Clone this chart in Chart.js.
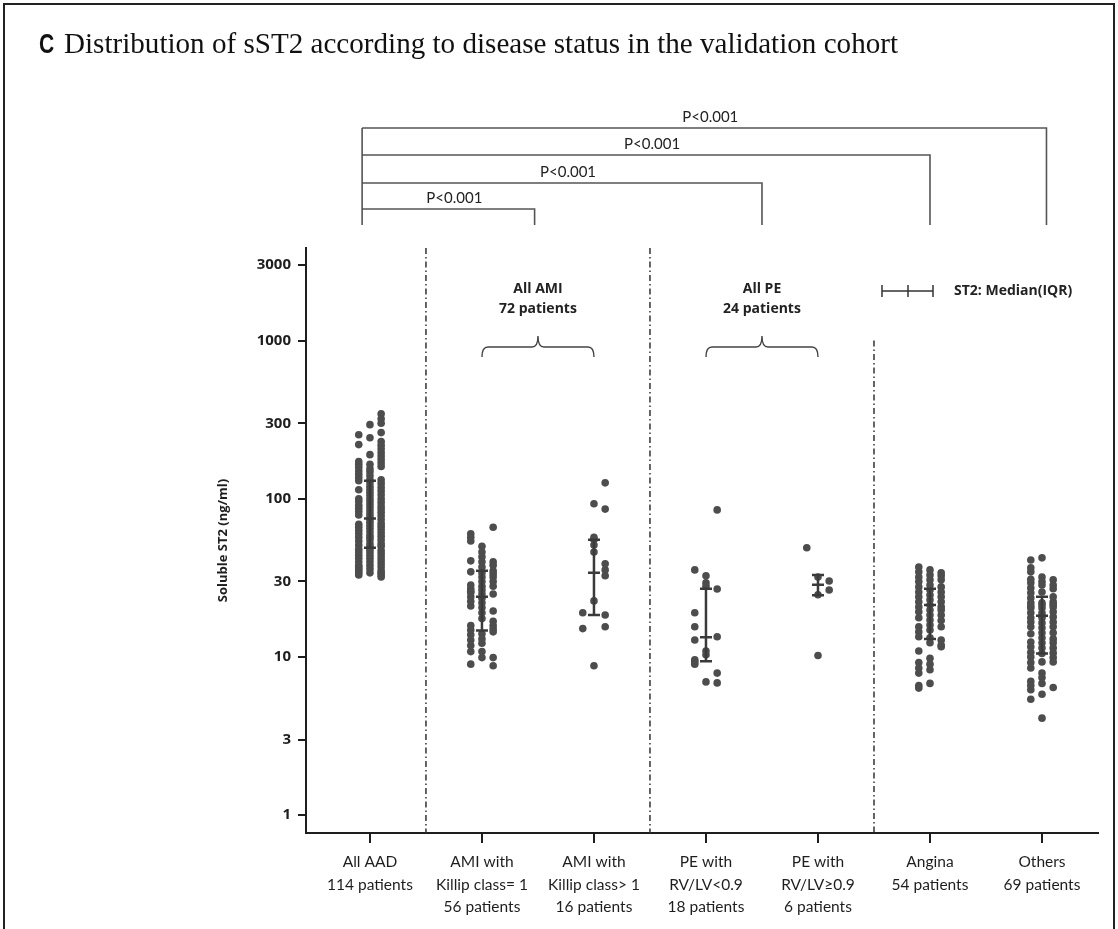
<!DOCTYPE html>
<html>
<head>
<meta charset="utf-8">
<script src="https://cdn.jsdelivr.net/npm/chart.js@4.4.1/dist/chart.umd.min.js"></script>
<style>
  html, body { margin: 0; padding: 0; background: #fff; }
  #wrap { width: 1118px; height: 929px; }
</style>
</head>
<body>
<div id="wrap"><canvas id="myChart" width="1118" height="929"></canvas></div>
<script>
// x axis groups
const categories = [
  ["All AAD", "114 patients"],
  ["AMI with", "Killip class= 1", "56 patients"],
  ["AMI with", "Killip class> 1", "16 patients"],
  ["PE with", "RV/LV<0.9", "18 patients"],
  ["PE with", "RV/LV\u22650.9", "6 patients"],
  ["Angina", "54 patients"],
  ["Others", "69 patients"]
];
const yTicks = [1, 3, 10, 30, 100, 300, 1000, 3000];

// sST2 (ng/ml) per group, split in the 3 dot columns (left, middle, right)
const allAAD = [
  [254, 220, 172, 165, 158, 150, 143, 136, 130, 114, 100, 96, 91, 87, 83, 79, 69, 66, 63, 60, 57, 54, 51, 48, 46, 44, 42, 40, 38, 37, 36, 35, 34, 33],
  [294, 243, 190, 165, 155, 148, 140, 132, 126, 120, 115, 110, 105, 100, 96, 92, 88, 84, 80, 77, 74, 71, 68, 65, 62, 59, 57, 55, 52, 50, 48, 46, 44, 42, 40, 38, 36, 34],
  [345, 320, 300, 262, 230, 218, 207, 196, 186, 177, 168, 160, 132, 125, 118, 112, 106, 100, 95, 90, 86, 82, 78, 74, 70, 67, 64, 61, 58, 55, 52, 50, 47, 45, 43, 41, 39, 37, 35, 34, 33, 32]
];
const amiKillip1 = [
  [60, 57, 54, 40.5, 34.5, 28.5, 27, 26, 25.5, 24, 22.5, 21, 15.8, 14.8, 13.8, 12.8, 11.8, 10.8, 9.0],
  [50, 46, 43, 40, 37, 34, 32, 30, 28, 26.5, 25, 23.5, 22, 20.5, 19, 17.5, 14, 13, 12.2, 10.8, 9.9],
  [66, 40, 38, 35, 33.5, 32, 30, 28, 25, 19.5, 16.8, 15.8, 15, 14.4, 9.9, 8.8]
];
const amiKillip2 = [
  [19, 15.1],
  [93, 57, 55, 51, 46, 22.6, 8.8],
  [126, 86, 38.8, 35.5, 32.6, 18.4, 15.5]
];
const peLow = [
  [35.5, 19, 15.5, 12.8, 9.6, 9.3, 9.0],
  [32.6, 29.4, 28, 10.9, 10.3, 6.95],
  [85, 26.9, 13.4, 7.9, 6.85]
];
const peHigh = [
  [49],
  [32, 24.7, 10.2],
  [30.2, 26.5]
];
const angina = [
  [37, 34.5, 32, 30, 27.7, 25.7, 24, 22.3, 20.7, 19.3, 17.7, 15.5, 14.4, 13.4, 10.9, 9.2, 8.5, 7.9, 6.6, 6.35],
  [35.5, 33, 30.7, 28.5, 26.5, 24.6, 23, 21.3, 19.8, 18.4, 17.1, 15.9, 14.8, 13.2, 12.3, 9.8, 9.0, 8.3, 6.8],
  [34, 32.6, 30.7, 27.7, 25.7, 24, 22.3, 20.7, 19.8, 18.4, 17, 15.5, 12.8, 11.9, 11.6]
];
const others = [
  [41, 36.6, 34.5, 31, 29.4, 27.3, 25.4, 23.6, 22, 21, 20.4, 19, 17.7, 16.6, 15.5, 14, 12.4, 11.6, 10.7, 10, 9.2, 8.5, 7.0, 6.6, 6.2, 5.4],
  [42.3, 32, 30, 28.5, 25.7, 22, 21.3, 20.4, 19, 18.2, 17.7, 16.4, 15.3, 14.2, 13.2, 12.3, 11.4, 10.5, 9.3, 7.9, 7.4, 6.8, 5.8, 4.1],
  [30.7, 28.5, 27, 24, 22.3, 21.5, 20.7, 19.3, 17.9, 16.6, 15.5, 14.2, 13, 12.3, 11.4, 10.6, 9.9, 9.3, 6.4]
];

// median (IQR) per group
const q1 = [49, 14.7, 18.4, 9.4, 24.5, 13, 10.5];
const median = [75, 24, 34, 13.3, 28.6, 21.3, 18.2];
const q3 = [130, 35, 55, 27, 33, 27, 24];

// All AAD vs the other groups
const pValues = ["P<0.001", "P<0.001", "P<0.001", "P<0.001"];

const groups = [allAAD, amiKillip1, amiKillip2, peLow, peHigh, angina, others];
const COL_OFF = 0.1;

let points = [];
groups.forEach((g, i) => {
  g.forEach((col, c) => {
    col.forEach(v => points.push({ x: i + (c - 1) * COL_OFF, y: v }));
  });
});

const INK = "#1e1e1e";

function dashLine(ctx, x, y1, y2) {
  ctx.beginPath();
  ctx.moveTo(x, y1);
  ctx.lineTo(x, y2);
  ctx.stroke();
}

function brace(ctx, x1, x2, y) {
  const xm = (x1 + x2) / 2, r = 6;
  ctx.beginPath();
  ctx.moveTo(x1, y + 10);
  ctx.quadraticCurveTo(x1, y, x1 + r, y);
  ctx.lineTo(xm - r, y);
  ctx.quadraticCurveTo(xm, y, xm, y - 11);
  ctx.quadraticCurveTo(xm, y, xm + r, y);
  ctx.lineTo(x2 - r, y);
  ctx.quadraticCurveTo(x2, y, x2, y + 10);
  ctx.stroke();
}

const figure = {
  id: "figure",
  beforeDraw(chart) {
    const ctx = chart.ctx;
    ctx.save();
    ctx.fillStyle = "#fff";
    ctx.fillRect(0, 0, chart.width, chart.height);
    // frame
    ctx.strokeStyle = "#222";
    ctx.lineWidth = 2;
    ctx.beginPath();
    ctx.moveTo(4, chart.height);
    ctx.lineTo(4, 4);
    ctx.lineTo(1114, 4);
    ctx.lineTo(1114, chart.height);
    ctx.stroke();
    // title
    ctx.fillStyle = "#111";
    ctx.textBaseline = "alphabetic";
    ctx.font = "bold 27px 'Liberation Sans'";
    ctx.save();
    ctx.translate(39, 53);
    ctx.scale(0.78, 1);
    ctx.fillText("C", 0, 0);
    ctx.restore();
    const title = "Distribution of sST2 according to disease status in the validation cohort";
    ctx.font = "30px 'Liberation Serif'";
    let sx = 834 / ctx.measureText(title).width;
    sx = Math.max(0.85, Math.min(1.15, sx));
    ctx.translate(64, 53);
    ctx.scale(sx, 1);
    ctx.fillText(title, 0, 0);
    ctx.restore();
  },
  beforeDatasetsDraw(chart) {
    const ctx = chart.ctx, xs = chart.scales.x, ys = chart.scales.y, a = chart.chartArea;
    ctx.save();
    ctx.strokeStyle = "#333";
    ctx.lineWidth = 1.5;
    ctx.setLineDash([6, 3, 1.5, 3]);
    dashLine(ctx, xs.getPixelForValue(0.5), a.top, a.bottom);
    dashLine(ctx, xs.getPixelForValue(2.5), a.top, a.bottom);
    dashLine(ctx, xs.getPixelForValue(4.5), ys.getPixelForValue(1000), a.bottom);
    ctx.restore();
  },
  afterDatasetsDraw(chart) {
    const ctx = chart.ctx, xs = chart.scales.x, ys = chart.scales.y;
    ctx.save();
    ctx.strokeStyle = "#3a3a3a";
    ctx.lineWidth = 2.5;
    for (let i = 0; i < groups.length; i++) {
      const x = xs.getPixelForValue(i);
      const y1 = ys.getPixelForValue(q1[i]), ym = ys.getPixelForValue(median[i]), y3 = ys.getPixelForValue(q3[i]);
      ctx.beginPath();
      ctx.moveTo(x, y3); ctx.lineTo(x, y1);
      [y1, ym, y3].forEach(y => { ctx.moveTo(x - 6, y); ctx.lineTo(x + 6, y); });
      ctx.stroke();
    }
    ctx.restore();
  },
  afterDraw(chart) {
    const ctx = chart.ctx, xs = chart.scales.x, a = chart.chartArea;
    ctx.save();
    // significance brackets
    const left = xs.getPixelForValue(-0.07);
    const ends = [6.04, 5.0, 3.5, 1.47];
    const levels = [128, 155, 183, 209];
    const bottom = 225;
    ctx.strokeStyle = "#555";
    ctx.lineWidth = 1.6;
    ctx.beginPath();
    ctx.moveTo(left, bottom); ctx.lineTo(left, levels[0]);
    ends.forEach((e, k) => {
      const xr = xs.getPixelForValue(e);
      ctx.moveTo(left, levels[k]); ctx.lineTo(xr, levels[k]); ctx.lineTo(xr, bottom);
    });
    ctx.stroke();
    ctx.fillStyle = "#222";
    ctx.font = "15px Lato";
    ctx.textAlign = "center";
    ctx.textBaseline = "middle";
    ends.forEach((e, k) => {
      const xc = (left + xs.getPixelForValue(e)) / 2 + 6;
      ctx.fillText(pValues[k], xc, levels[k] - 11);
    });

    // braces over the AMI and PE groups
    ctx.strokeStyle = "#444";
    ctx.lineWidth = 1.4;
    const by = a.top + 99;
    brace(ctx, xs.getPixelForValue(1), xs.getPixelForValue(2), by);
    brace(ctx, xs.getPixelForValue(3), xs.getPixelForValue(4), by);
    ctx.font = "bold 14px 'Open Sans'";
    ctx.fillStyle = "#222";
    [[1.5, "All AMI", "72 patients"], [3.5, "All PE", "24 patients"]].forEach(t => {
      const x = xs.getPixelForValue(t[0]);
      ctx.fillText(t[1], x, a.top + 41);
      ctx.fillText(t[2], x, a.top + 61);
    });

    // legend
    const ly = a.top + 43, lx1 = 882, lx2 = 933, lxm = 908;
    ctx.strokeStyle = "#333";
    ctx.lineWidth = 1.5;
    ctx.beginPath();
    ctx.moveTo(lx1, ly); ctx.lineTo(lx2, ly);
    [lx1, lxm, lx2].forEach(x => { ctx.moveTo(x, ly - 6); ctx.lineTo(x, ly + 6); });
    ctx.stroke();
    ctx.textAlign = "left";
    ctx.font = "bold 14px 'Open Sans'";
    ctx.fillText("ST2: Median(IQR)", 954, ly);
    ctx.restore();
  }
};

const ctx = document.getElementById("myChart").getContext("2d");
const chart = new Chart(ctx, {
  type: "scatter",
  data: {
    datasets: [{
      data: points,
      backgroundColor: "#4d4d4d",
      borderWidth: 0,
      pointRadius: 3.8,
      pointHoverRadius: 3.8
    }]
  },
  options: {
    responsive: false,
    animation: false,
    events: [],
    layout: { padding: { left: 215, top: 248, right: 20, bottom: 0 } },
    plugins: { legend: { display: false }, tooltip: { enabled: false } },
    scales: {
      x: {
        type: "linear",
        min: -0.571,
        max: 6.5,
        afterBuildTicks: s => { s.ticks = categories.map((c, i) => ({ value: i })); },
        afterFit: s => { s.height = 96; },
        ticks: {
          callback: (v, i) => categories[i],
          font: { family: "Lato", size: 15.5, lineHeight: 1.45 },
          color: INK,
          padding: 8,
          maxRotation: 0,
          autoSkip: false
        },
        grid: { drawOnChartArea: false, drawTicks: true, tickLength: 10, color: INK, lineWidth: 2 },
        border: { color: INK, width: 2 }
      },
      y: {
        type: "logarithmic",
        min: 0.77,
        max: 3850,
        afterBuildTicks: s => { s.ticks = yTicks.map(v => ({ value: v })); },
        afterFit: s => { s.width = 91; },
        ticks: {
          callback: v => String(v),
          font: { family: "Open Sans", size: 15, weight: "bold" },
          color: INK,
          padding: 7
        },
        grid: { drawOnChartArea: false, drawTicks: true, tickLength: 8, color: INK, lineWidth: 2 },
        border: { color: INK, width: 2 },
        title: {
          display: true,
          text: "Soluble ST2 (ng/ml)",
          font: { family: "Open Sans", size: 13, weight: "bold" },
          color: INK,
          padding: 0
        }
      }
    }
  },
  plugins: [figure]
});
</script>
</body>
</html>
